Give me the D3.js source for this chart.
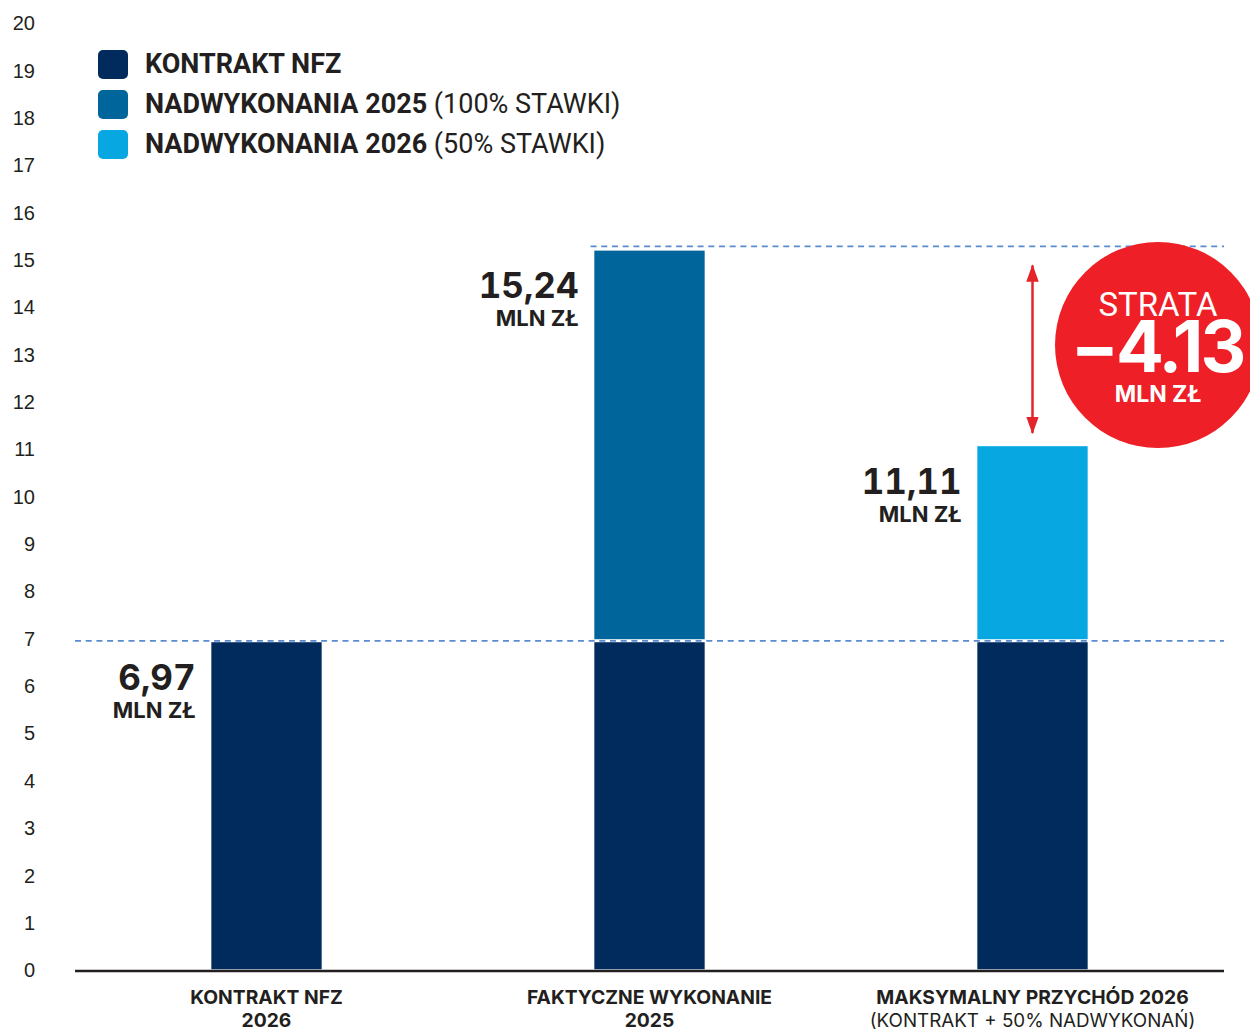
<!DOCTYPE html>
<html>
<head>
<meta charset="utf-8">
<script src="https://cdn.jsdelivr.net/npm/d3@7"></script>
<style>
  body { margin: 0; background: #fff; }
  svg text { font-family: "Roboto", "Liberation Sans", sans-serif; fill: #231f20; }
  svg text.wide { font-family: "Inter", "Roboto", sans-serif; }
</style>
</head>
<body>
<div id="chart"></div>
<script>
// data
const categories = ["KONTRAKT NFZ 2026", "FAKTYCZNE WYKONANIE 2025", "MAKSYMALNY PRZYCHÓD 2026"];
const catLine1 = ["KONTRAKT NFZ", "FAKTYCZNE WYKONANIE", "MAKSYMALNY PRZYCHÓD 2026"];
const catLine2 = ["2026", "2025", "(KONTRAKT + 50% NADWYKONAŃ)"];
const kontrakt = [6.97, 6.97, 6.97];
const nadw2025 = [0, 8.27, 0];
const nadw2026 = [0, 0, 4.14];
const totals = ["6,97", "15,24", "11,11"];
const yTicks = d3.range(0, 21);
const legendBold = ["KONTRAKT NFZ", "NADWYKONANIA 2025", "NADWYKONANIA 2026"];
const legendLight = ["", " (100% STAWKI)", " (50% STAWKI)"];
const lossValue = "\u22124.13";

const colors = ["#002b5c", "#00659b", "#07a8e1"];
const keys = ["kontrakt", "nadw2025", "nadw2026"];

const W = 1250, H = 1032;
const m = { left: 75, right: 1224, bottom: 970, top: 23 };

const svg = d3.select("#chart").append("svg")
  .attr("width", W).attr("height", H);

const x = d3.scaleBand()
  .domain(categories)
  .range([m.left, m.right])
  .paddingInner(0.708)
  .paddingOuter(0.354);

const y = d3.scaleLinear()
  .domain([0, 20])
  .range([m.bottom, m.top]);

// y ticks (no axis line)
svg.append("g").selectAll("text")
  .data(yTicks).join("text")
  .attr("x", 35)
  .attr("y", d => y(d))
  .attr("dy", "0.36em")
  .attr("text-anchor", "end")
  .style("font-family", "'Liberation Sans', Arial, sans-serif")
  .style("font-size", "20px")
  .text(d => d);

// stacked bars
const rows = categories.map((c, i) => ({ cat: c, kontrakt: kontrakt[i], nadw2025: nadw2025[i], nadw2026: nadw2026[i] }));
const stack = d3.stack().keys(keys)(rows);

svg.append("g").selectAll("g")
  .data(stack).join("g")
  .attr("fill", (d, i) => colors[i])
  .selectAll("rect")
  .data(d => d.filter(s => s[1] - s[0] > 0)).join("rect")
  .attr("x", d => x(d.data.cat))
  .attr("width", x.bandwidth())
  .attr("y", d => y(d[1]) + 1.5)
  .attr("height", d => y(d[0]) - y(d[1]) - 1.5)
  .attr("stroke", "#fff")
  .attr("stroke-width", 1.5);

// dashed reference lines
const totalVals = categories.map((c, i) => kontrakt[i] + nadw2025[i] + nadw2026[i]);
svg.append("line")
  .attr("x1", m.left).attr("x2", m.right)
  .attr("y1", y(kontrakt[0]) + 1).attr("y2", y(kontrakt[0]) + 1)
  .attr("stroke", "#5a8ad0").attr("stroke-width", 1.8)
  .attr("stroke-dasharray", "6,4.7");
svg.append("line")
  .attr("x1", x(categories[1]) - 3).attr("x2", m.right)
  .attr("y1", y(totalVals[1]) - 2).attr("y2", y(totalVals[1]) - 2)
  .attr("stroke", "#5a8ad0").attr("stroke-width", 1.8)
  .attr("stroke-dasharray", "6,4.7");

// baseline
svg.append("line")
  .attr("x1", m.left).attr("x2", m.right)
  .attr("y1", m.bottom + 1).attr("y2", m.bottom + 1)
  .attr("stroke", "#231f20").attr("stroke-width", 2.5);

// value labels
const lab = svg.append("g").selectAll("g")
  .data(categories).join("g");
lab.append("text").attr("class", "wide")
  .attr("x", d => x(d) - 15)
  .attr("y", (d, i) => y(totalVals[i]) + 50)
  .attr("text-anchor", "end")
  .style("font-size", "35px").style("font-weight", "700")
  .style("font-variant-numeric", "tabular-nums")
  .text((d, i) => totals[i]);
lab.append("text").attr("class", "wide")
  .attr("x", d => x(d) - 15)
  .attr("y", (d, i) => y(totalVals[i]) + 78)
  .attr("text-anchor", "end")
  .style("font-size", "22px").style("font-weight", "700")
  .text("MLN ZŁ");

// category labels
const cl = svg.append("g").selectAll("g")
  .data(categories).join("g");
cl.append("text").attr("class", "wide")
  .attr("x", d => x(d) + x.bandwidth() / 2)
  .attr("y", 1004)
  .attr("text-anchor", "middle")
  .style("font-size", "19.3px").style("font-weight", "700")
  .text((d, i) => catLine1[i]);
cl.append("text").attr("class", "wide")
  .attr("x", d => x(d) + x.bandwidth() / 2)
  .attr("y", 1027)
  .attr("text-anchor", "middle")
  .style("font-size", (d, i) => i === 2 ? "18.8px" : "19.3px")
  .style("font-weight", (d, i) => i === 2 ? "400" : "700")
  .text((d, i) => catLine2[i]);

// legend
const lg = svg.append("g").selectAll("g")
  .data(legendBold).join("g")
  .attr("transform", (d, i) => `translate(98, ${50 + i * 40})`);
lg.append("rect")
  .attr("width", 30).attr("height", 29).attr("rx", 5)
  .attr("fill", (d, i) => colors[i]);
const lt = lg.append("text")
  .attr("x", 47).attr("y", 23)
  .style("font-size", "27px");
lt.append("tspan").style("font-weight", "700").text(d => d);
lt.append("tspan").style("font-weight", "400").text((d, i) => legendLight[i]);

// loss arrow
svg.append("defs").html(`
  <marker id="ah" viewBox="0 0 14 10" refX="13" refY="5" markerWidth="7" markerHeight="5" orient="auto-start-reverse">
    <path d="M0,0 L14,5 L0,10 z" fill="#e3242b"/>
  </marker>`);
const ax = x(categories[2]) + x.bandwidth() / 2;
svg.append("line")
  .attr("x1", ax).attr("x2", ax)
  .attr("y1", y(totalVals[1]) + 17).attr("y2", y(totalVals[2]) - 11)
  .attr("stroke", "#e3242b").attr("stroke-width", 2.5)
  .attr("marker-start", "url(#ah)").attr("marker-end", "url(#ah)");

// loss badge
const badge = svg.append("g").attr("transform", "translate(1158, 345)");
badge.append("circle").attr("r", 103).attr("fill", "#ee1f26");
badge.append("text")
  .attr("y", -29).attr("text-anchor", "middle")
  .style("font-size", "33px").style("fill", "#fff")
  .text("STRATA");
badge.append("text").attr("class", "wide")
  .attr("y", 27).attr("x", -1).attr("text-anchor", "middle")
  .style("font-size", "71px").style("font-weight", "700").style("fill", "#fff")
  .style("letter-spacing", "-3px")
  .text(lossValue);
badge.append("text").attr("class", "wide")
  .attr("y", 57).attr("text-anchor", "middle")
  .style("font-size", "23px").style("font-weight", "700").style("fill", "#fff")
  .text("MLN ZŁ");
</script>
</body>
</html>
